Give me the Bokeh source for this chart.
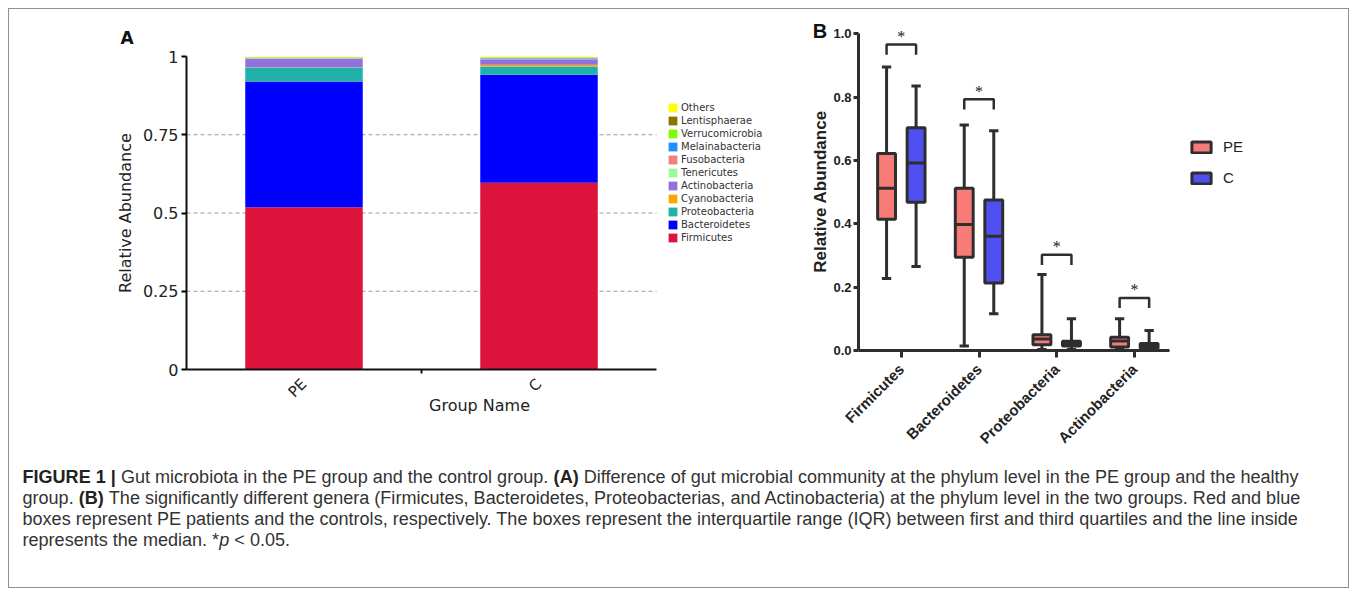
import math
from bokeh.plotting import figure
from bokeh.models import (Range1d, FixedTicker, Legend, LegendItem, LabelSet,
                          ColumnDataSource, NumeralTickFormatter)
from bokeh.layouts import row, column
from bokeh.embed import file_html
from bokeh.resources import INLINE
from bokeh.core.properties import value

# ---------------- data: panel A (stacked relative abundance) ----------------
groups = ["PE", "C"]
phyla_a = ["Firmicutes", "Bacteroidetes", "Proteobacteria", "Cyanobacteria",
           "Actinobacteria", "Tenericutes", "Fusobacteria", "Melainabacteria",
           "Verrucomicrobia", "Lentisphaerae", "Others"]
pe_abund = [0.518, 0.402, 0.045, 0.001, 0.028, 0.001, 0.001, 0.001, 0.0005, 0.0005, 0.002]
c_abund = [0.597, 0.345, 0.026, 0.006, 0.017, 0.002, 0.001, 0.001, 0.001, 0.001, 0.003]
colors_a = ["#DC143C", "#0000FF", "#20B2AA", "#FFA500", "#9370DB", "#98FB98",
            "#F08080", "#1E90FF", "#7CFC00", "#8B7500", "#FFFF00"]
yticks_a = [0, 0.25, 0.5, 0.75, 1]
ytick_labels_a = ["0", "0.25", "0.5", "0.75", "1"]
grid_a = [0.25, 0.5, 0.75]

# ---------------- data: panel B (box plots) ----------------
phyla_b = ["Firmicutes", "Bacteroidetes", "Proteobacteria", "Actinobacteria"]
pe_min = [0.227, 0.014, 0.003, 0.005]
pe_q1 = [0.414, 0.294, 0.018, 0.011]
pe_med = [0.512, 0.398, 0.036, 0.030]
pe_q3 = [0.622, 0.512, 0.050, 0.042]
pe_max = [0.895, 0.712, 0.240, 0.100]
c_min = [0.265, 0.116, 0.003, 0.003]
c_q1 = [0.468, 0.213, 0.014, 0.007]
c_med = [0.592, 0.361, 0.022, 0.016]
c_q3 = [0.703, 0.475, 0.029, 0.022]
c_max = [0.835, 0.694, 0.100, 0.063]
sig_y = [0.966, 0.793, 0.302, 0.166]
sig_mark = ["*", "*", "*", "*"]
yticks_b = [0, 0.2, 0.4, 0.6, 0.8, 1.0]

caption_lines = [
    [("FIGURE 1 | ", "b"), ("Gut microbiota in the PE group and the control group. ", "r"), ("(A)", "b"),
     (" Difference of gut microbial community at the phylum level in the PE group and the healthy", "r")],
    [("group. ", "r"), ("(B)", "b"),
     (" The significantly different genera (Firmicutes, Bacteroidetes, Proteobacterias, and Actinobacteria) at the phylum level in the two groups. Red and blue", "r")],
    [("boxes represent PE patients and the controls, respectively. The boxes represent the interquartile range (IQR) between first and third quartiles and the line inside", "r")],
    [("represents the median. *", "r"), ("p", "i"), (" < 0.05.", "r")],
]

ROW_H = 446

# ---------------- panel A ----------------
FA = "DejaVu Sans"
pA = figure(width=763, height=ROW_H, x_range=Range1d(0, 2.4936), y_range=Range1d(0, 1),
            min_border_left=177, min_border_right=0, min_border_top=47, min_border_bottom=86,
            toolbar_location=None, output_backend="svg", outline_line_color=None, title="A")
pA.grid.visible = False
pA.title.align = "left"
pA.title.offset = -66
pA.title.standoff = 18
pA.title.text_font = FA
pA.title.text_font_size = "17px"
pA.title.text_font_style = "bold"
pA.title.text_color = "#111111"

xpos_a = [i + 0.5 for i in range(len(groups))]
srcA = ColumnDataSource(dict(x=xpos_a, **{ph: [a, b] for ph, a, b in zip(phyla_a, pe_abund, c_abund)}))
pA.segment(x0=0, x1=len(groups), y0=grid_a, y1=grid_a, line_color="#9a9a9a",
           line_dash="4 3", line_width=1)
rsA = pA.vbar_stack(phyla_a, x="x", width=0.5, fill_color=colors_a, line_color=None, source=srcA)

ya = pA.yaxis[0]
ya.ticker = FixedTicker(ticks=yticks_a)
ya.major_label_overrides = {t: s for t, s in zip(yticks_a, ytick_labels_a)}
ya.axis_line_width = 2
ya.axis_line_color = "#111111"
ya.major_tick_out = 5
ya.major_tick_in = 0
ya.major_tick_line_width = 2
ya.minor_tick_line_color = None
ya.major_label_text_font = FA
ya.major_label_text_font_size = "16px"
ya.major_label_text_color = "#222222"
ya.major_label_standoff = 3
ya.axis_label = "Relative Abundance"
ya.axis_label_text_font = FA
ya.axis_label_text_font_size = "16px"
ya.axis_label_text_font_style = "normal"
ya.axis_label_text_color = "#222222"
ya.axis_label_standoff = 5

xa = pA.xaxis[0]
xa.bounds = (0, len(groups))
xa.ticker = FixedTicker(ticks=xpos_a, minor_ticks=[1.0])
xa.major_label_overrides = {x: g for x, g in zip(xpos_a, groups)}
xa.axis_line_width = 2
xa.axis_line_color = "#111111"
xa.major_tick_line_color = None
xa.major_tick_out = 0
xa.minor_tick_out = 4
xa.minor_tick_in = 0
xa.minor_tick_line_width = 2
xa.minor_tick_line_color = "#111111"
xa.major_label_orientation = math.pi / 4
xa.major_label_text_font = FA
xa.major_label_text_font_size = "15px"
xa.major_label_text_color = "#222222"
xa.major_label_standoff = 8
xa.axis_label = "Group Name"
xa.axis_label_text_font = FA
xa.axis_label_text_font_size = "16px"
xa.axis_label_text_font_style = "normal"
xa.axis_label_text_color = "#222222"
xa.axis_label_standoff = -14

itemsA = [LegendItem(label=ph, renderers=[r]) for ph, r in zip(phyla_a, rsA)][::-1]
legA = Legend(items=itemsA, location=(481, 126), glyph_width=11, glyph_height=11,
              label_height=12, spacing=1, label_standoff=3, padding=0, margin=0,
              border_line_color=None, background_fill_alpha=0,
              label_text_font=FA, label_text_font_size="10px", label_text_color="#333333")
pA.add_layout(legA)

# ---------------- panel B: label strip (panel letter and y title) ----------------
FB = "Liberation Sans"
LW = 58
pL = figure(width=LW, height=ROW_H, x_range=Range1d(0, LW), y_range=Range1d(0, ROW_H),
            min_border=0, toolbar_location=None, output_backend="svg",
            x_axis_type=None, y_axis_type=None, outline_line_color=None)
pL.grid.visible = False
pL.text(x=[47.5], y=[ROW_H - 21.5], text=["B"], text_font=value(FB), text_font_style="bold",
        text_font_size=value("20px"), text_align="center", text_baseline="middle",
        text_color="#111111")
pL.text(x=[47.5], y=[ROW_H - 182], text=["Relative Abundance"], angle=math.pi / 2,
        text_font=value(FB), text_font_style="bold", text_font_size=value("17px"),
        text_align="center", text_baseline="middle", text_color="#222222")

# ---------------- panel B ----------------
DARK = "#2e2e2e"
PE_FILL = "#F97B78"
C_FILL = "#4F4FF2"
OFF, BW, CAP, LEG = 0.19, 0.23, 0.12, 0.032
X_LO, X_HI = -0.551, 3.449

pB = figure(width=518, height=ROW_H, x_range=Range1d(-0.5513, 5.7564), y_range=Range1d(0, 1.0765),
            min_border_left=26, min_border_right=0, min_border_top=0, min_border_bottom=104,
            toolbar_location=None, output_backend="svg", outline_line_color=None)
pB.grid.visible = False

idx = list(range(len(phyla_b)))
renderers_b = []
for sign, mn, q1, md, q3, mx, fill in [(-1, pe_min, pe_q1, pe_med, pe_q3, pe_max, PE_FILL),
                                       (1, c_min, c_q1, c_med, c_q3, c_max, C_FILL)]:
    xc = [i + sign * OFF for i in idx]
    pB.segment(x0=xc, y0=mn, x1=xc, y1=mx, line_color=DARK, line_width=3)
    pB.segment(x0=[x - CAP / 2 for x in xc], y0=mn, x1=[x + CAP / 2 for x in xc], y1=mn,
               line_color=DARK, line_width=3)
    pB.segment(x0=[x - CAP / 2 for x in xc], y0=mx, x1=[x + CAP / 2 for x in xc], y1=mx,
               line_color=DARK, line_width=3)
    r = pB.quad(left=[x - BW / 2 for x in xc], right=[x + BW / 2 for x in xc], bottom=q1, top=q3,
                fill_color=fill, line_color=DARK, line_width=3)
    renderers_b.append(r)
    pB.segment(x0=[x - BW / 2 for x in xc], y0=md, x1=[x + BW / 2 for x in xc], y1=md,
               line_color=DARK, line_width=3)

pB.multi_line(xs=[[i - OFF, i - OFF, i + OFF, i + OFF] for i in idx],
              ys=[[s - LEG, s, s, s - LEG] for s in sig_y], line_color=DARK, line_width=2.5)
star_src = ColumnDataSource(dict(x=idx, y=[s + 0.026 for s in sig_y], t=sig_mark))
pB.add_layout(LabelSet(x="x", y="y", text="t", source=star_src, text_align="center",
                       text_baseline="middle", text_font=FB, text_font_size="16px",
                       text_color="#222222"))

yb = pB.yaxis[0]
yb.bounds = (0, 1)
yb.ticker = FixedTicker(ticks=yticks_b)
yb.formatter = NumeralTickFormatter(format="0.0")
yb.axis_line_width = 3
yb.axis_line_color = DARK
yb.major_tick_out = 5
yb.major_tick_in = 0
yb.major_tick_line_width = 3
yb.major_tick_line_color = DARK
yb.minor_tick_line_color = None
yb.major_label_text_font = FB
yb.major_label_text_font_style = "bold"
yb.major_label_text_font_size = "13px"
yb.major_label_text_color = "#222222"
yb.major_label_standoff = 2

xb = pB.xaxis[0]
xb.bounds = (X_LO, X_HI)
xb.ticker = FixedTicker(ticks=idx)
xb.major_label_overrides = {i: n for i, n in zip(idx, phyla_b)}
xb.axis_line_width = 3
xb.axis_line_color = DARK
xb.major_tick_out = 7
xb.major_tick_in = 0
xb.major_tick_line_width = 3
xb.major_tick_line_color = DARK
xb.minor_tick_line_color = None
xb.major_label_orientation = math.pi / 4
xb.major_label_text_font = FB
xb.major_label_text_font_style = "bold"
xb.major_label_text_font_size = "15px"
xb.major_label_text_color = "#222222"
xb.major_label_standoff = 9

legB = Legend(items=[LegendItem(label="PE", renderers=[renderers_b[0]]),
                     LegendItem(label="C", renderers=[renderers_b[1]])],
              location=(331, 164), glyph_width=24, glyph_height=14, label_height=14,
              spacing=14, label_standoff=10, padding=0, margin=0, border_line_color=None,
              background_fill_alpha=0, label_text_font=FB, label_text_font_size="15px",
              label_text_color="#222222")
pB.add_layout(legB)

for p in (pA, pL, pB):
    if "frame_align" in p.properties():
        p.frame_align = False

# ---------------- caption ----------------
REG = {' ': 278, '!': 278, '"': 355, "'": 191, '(': 333, ')': 333, '*': 389, '+': 584, ',': 278,
       '-': 333, '.': 278, '/': 278, ':': 278, ';': 278, '<': 584, '=': 584, '>': 584, '|': 260,
       'A': 667, 'B': 667, 'C': 722, 'D': 722, 'E': 667, 'F': 611, 'G': 778, 'H': 722, 'I': 278,
       'J': 500, 'K': 667, 'L': 556, 'M': 833, 'N': 722, 'O': 778, 'P': 667, 'Q': 778, 'R': 722,
       'S': 667, 'T': 611, 'U': 722, 'V': 667, 'W': 944, 'X': 667, 'Y': 667, 'Z': 611,
       'a': 556, 'b': 556, 'c': 500, 'd': 556, 'e': 556, 'f': 278, 'g': 556, 'h': 556, 'i': 222,
       'j': 222, 'k': 500, 'l': 222, 'm': 833, 'n': 556, 'o': 556, 'p': 556, 'q': 556, 'r': 333,
       's': 500, 't': 278, 'u': 556, 'v': 500, 'w': 722, 'x': 500, 'y': 500, 'z': 500}
BOLD = dict(REG)
BOLD.update({'|': 280, 'A': 722, 'B': 722, 'K': 722, 'L': 611, 'J': 556, 'b': 611, 'c': 556,
             'd': 611, 'f': 333, 'g': 611, 'h': 611, 'i': 278, 'j': 278, 'k': 556, 'l': 278,
             'm': 889, 'n': 611, 'o': 611, 'p': 611, 'q': 611, 'r': 389, 's': 556, 't': 333,
             'u': 611, 'v': 556, 'w': 778, 'x': 556, 'y': 556})


def em(s, style):
    tab = BOLD if style == "b" else REG
    return sum(tab.get(ch, 556) for ch in s) / 1000.0


line1_em = sum(em(s, st) for s, st in caption_lines[0])
FS = 1277.0 / line1_em
CAP_W, CAP_H = 1339, 132
pC = figure(width=CAP_W, height=CAP_H, x_range=Range1d(0, CAP_W), y_range=Range1d(CAP_H, 0),
            min_border=0, toolbar_location=None, output_backend="svg",
            x_axis_type=None, y_axis_type=None, outline_line_color=None)
pC.grid.visible = False
if "frame_align" in pC.properties():
    pC.frame_align = False
segs = {"r": ([], [], []), "b": ([], [], []), "i": ([], [], [])}
x_start, y0, pitch = 13.0, 21.0, 21.0
for li, line in enumerate(caption_lines):
    xcur = x_start
    for s, st in line:
        lead = len(s) - len(s.lstrip(" "))
        txt = s.strip(" ")
        if txt:
            xs, ys, ts = segs[st]
            xs.append(xcur + em(" " * lead, st) * FS)
            ys.append(y0 + li * pitch)
            ts.append(txt)
        xcur += em(s, st) * FS
for st, (xs, ys, ts) in segs.items():
    if not ts:
        continue
    pC.text(x=xs, y=ys, text=ts, text_font=value("Liberation Sans"),
            text_font_size=value("%.2fpx" % FS),
            text_font_style={"r": "normal", "b": "bold", "i": "italic"}[st],
            text_baseline="middle", text_align="left",
            text_color="#222222" if st == "b" else "#333333")

layout = column(row(pA, pL, pB), pC,
                styles={"border": "1px solid #8f8f8f", "margin": "8px 0 0 8px"})
open("out.html", "w").write(file_html(layout, INLINE))
